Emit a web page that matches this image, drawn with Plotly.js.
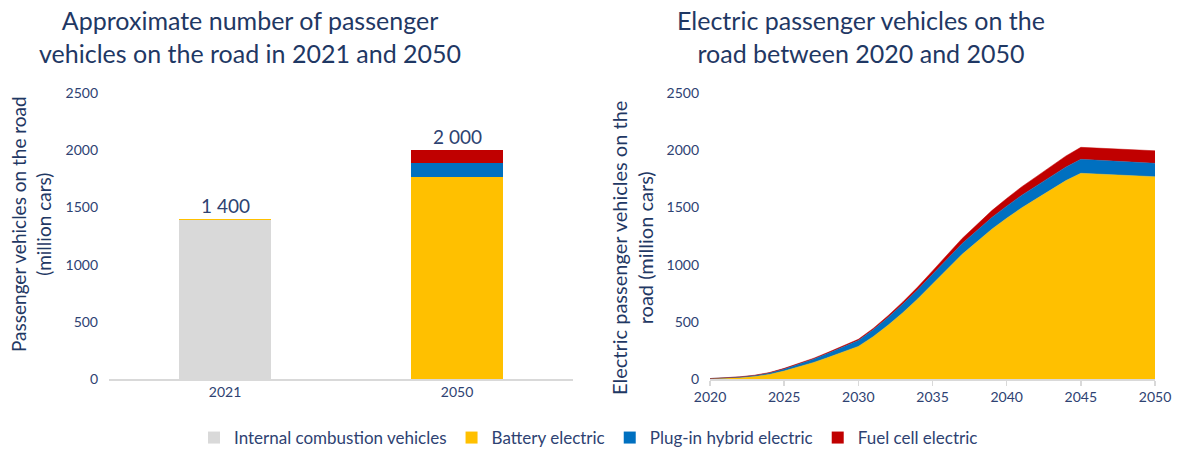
<!DOCTYPE html>
<html>
<head>
<meta charset="utf-8">
<script src="https://cdn.plot.ly/plotly-3.0.1.min.js"></script>
<style>html,body{margin:0;padding:0;background:#fff;}#chart{width:1177px;height:451px;}</style>
</head>
<body>
<div id="chart"></div>
<script>
// ---- Left chart data (million cars) ----
const barYears = ['2021', '2050'];
const barICE  = [1388, 0];
const barBEV  = [10, 1768];
const barPHEV = [1, 122];
const barFC   = [4, 110];
const barTotalLabels = ['1 400', '2 000'];

// ---- Right chart data (million cars) ----
const years = [2020,2021,2022,2023,2024,2025,2026,2027,2028,2029,2030,2031,2032,2033,2034,2035,2036,2037,2038,2039,2040,2041,2042,2043,2044,2045,2046,2047,2048,2049,2050];
const evBEV  = [2,5,12,22,40,70,105,145,190,235,285,370,470,580,700,830,960,1090,1200,1310,1405,1495,1575,1655,1735,1798,1792,1788,1783,1776,1768];
const evPHEV = [2,3,5,8,12,18,24,30,37,45,52,60,68,75,80,85,90,94,98,102,106,110,113,116,119,122,121,120,119,118,117];
const evFC   = [0,1,2,3,4,5,6,7,8,9,10,12,15,19,24,30,38,45,52,60,67,74,81,88,96,105,106,107,108,109,110];

const seriesNames = ['Internal combustion vehicles', 'Battery electric', 'Plug-in hybrid electric', 'Fuel cell electric'];
const colors = ['#d9d9d9', '#ffc000', '#0070c0', '#c00000'];

const navy = '#1f3864';
const tickNavy = '#2e4272';
const FONT = 'Lato, "Open Sans", sans-serif';

const barSeries = [barICE, barBEV, barPHEV, barFC];
const traces = [];
barSeries.forEach((vals, i) => {
  traces.push({
    type: 'bar', x: barYears, y: vals, name: seriesNames[i],
    marker: {color: colors[i], line: {width: 0}}, width: 0.4,
    xaxis: 'x', yaxis: 'y', hoverinfo: 'skip'
  });
});
const evSeries = [evBEV, evPHEV, evFC];
evSeries.forEach((vals, i) => {
  traces.push({
    type: 'scatter', mode: 'lines', x: years, y: vals, name: seriesNames[i + 1],
    stackgroup: 'ev', fillcolor: colors[i + 1], line: {color: colors[i + 1], width: 0.5},
    xaxis: 'x2', yaxis: 'y2', showlegend: false, hoverinfo: 'skip'
  });
});

const totals = barYears.map((_, k) => barSeries.reduce((s, a) => s + a[k], 0));

const yDom = [(451 - 379) / 451, (451 - 93) / 451];
const annotations = [
  {xref: 'paper', yref: 'paper', x: 250 / 1177, y: (451 - 36) / 451, xanchor: 'center', yanchor: 'middle',
   text: 'Approximate number of passenger<br>vehicles on the road in 2021 and 2050', showarrow: false,
   font: {family: FONT, size: 25, color: navy}},
  {xref: 'paper', yref: 'paper', x: 861 / 1177, y: (451 - 36) / 451, xanchor: 'center', yanchor: 'middle',
   text: 'Electric passenger vehicles on the<br>road between 2020 and 2050', showarrow: false,
   font: {family: FONT, size: 25, color: navy}},
  {xref: 'paper', yref: 'paper', x: 31 / 1177, y: (451 - 224) / 451, xanchor: 'center', yanchor: 'middle',
   text: 'Passenger vehicles on the road<br>(million cars)', textangle: -90, showarrow: false,
   font: {family: FONT, size: 19, color: navy}},
  {xref: 'paper', yref: 'paper', x: 632 / 1177, y: (451 - 248) / 451, xanchor: 'center', yanchor: 'middle',
   text: 'Electric passenger vehicles on the<br>road (million cars)', textangle: -90, showarrow: false,
   font: {family: FONT, size: 20, color: navy}}
];
barYears.forEach((c, k) => {
  annotations.push({xref: 'x', yref: 'y', x: k, y: totals[k], yanchor: 'bottom', yshift: 0,
    text: barTotalLabels[k], showarrow: false, font: {family: FONT, size: 19, color: tickNavy}});
});

const layout = {
  width: 1177, height: 451,
  margin: {l: 0, r: 0, t: 0, b: 0, autoexpand: false},
  paper_bgcolor: '#fff', plot_bgcolor: '#fff',
  font: {family: FONT, color: tickNavy, size: 14},
  barmode: 'stack',
  showlegend: true,
  legend: {orientation: 'h', x: 0.5, xanchor: 'center', y: (451 - 438) / 451, yanchor: 'middle',
    font: {family: FONT, size: 17, color: tickNavy}, traceorder: 'normal', itemwidth: 30},
  xaxis: {domain: [109 / 1177, 573 / 1177], anchor: 'y', type: 'category', categoryarray: barYears, range: [-0.5, 1.5],
    showline: true, linecolor: '#d9d9d9', linewidth: 1.5,
    ticks: '', showgrid: false, zeroline: false, tickfont: {size: 14, color: tickNavy}},
  yaxis: {domain: yDom, anchor: 'x', range: [0, 2500], dtick: 500, showgrid: false, zeroline: false, showline: false,
    ticks: '', tickfont: {size: 14, color: tickNavy}, ticklabelstandoff: 10},
  xaxis2: {domain: [710 / 1177, 1155 / 1177], anchor: 'y2', range: [2020, 2050], tickvals: [2020, 2025, 2030, 2035, 2040, 2045, 2050],
    showline: true, linecolor: '#d9d9d9', linewidth: 1.5, ticks: 'outside', ticklen: 5, tickcolor: '#d9d9d9', tickwidth: 1.5,
    showgrid: false, zeroline: false, tickfont: {size: 14, color: tickNavy}},
  yaxis2: {domain: yDom, anchor: 'x2', range: [0, 2500], dtick: 500, showgrid: false, zeroline: false, showline: false,
    ticks: '', tickfont: {size: 14, color: tickNavy}, ticklabelstandoff: 10},
  annotations: annotations
};

Plotly.newPlot('chart', traces, layout, {staticPlot: true, displayModeBar: false});
</script>
</body>
</html>
